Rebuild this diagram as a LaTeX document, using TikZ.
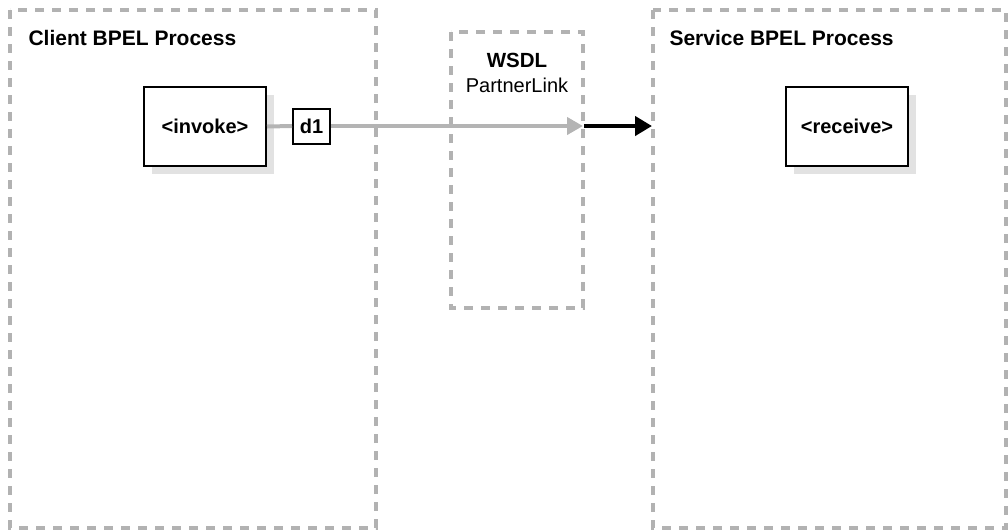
\documentclass[tikz,border=0pt]{standalone}
\usepackage{fontspec}
\setmainfont{Liberation Sans}
\usetikzlibrary{arrows.meta}
\definecolor{dashgray}{RGB}{178,178,178}
\definecolor{shadowgray}{RGB}{226,226,226}
\definecolor{linegray}{RGB}{180,180,180}
\tikzset{
  region/.style={draw=dashgray, line width=3.2pt, dash pattern=on 9pt off 8pt},
  act/.style={draw=black, line width=2pt, fill=white, minimum width=122pt, minimum height=79pt, font=\bfseries\fontsize{20}{24}\selectfont, inner sep=0pt},
  shadow/.style={fill=shadowgray},
  datab/.style={draw=black, line width=2pt, fill=white, minimum width=37pt, minimum height=35pt, font=\bfseries\fontsize{20}{24}\selectfont, inner sep=0pt},
  title/.style={font=\bfseries\fontsize{21}{25}\selectfont, anchor=west},
}
\begin{document}
\begin{tikzpicture}[x=1pt,y=-1pt]
\useasboundingbox (0,0) rectangle (1008,531);
\draw[region] (10,10) rectangle (376,528);
\draw[region] (653,10) rectangle (1006,528);
\draw[region] (451,32) rectangle (583,308);
\node[title] (ct) at (25,38) {Client BPEL Process};
\node[title] (st) at (666,38) {Service BPEL Process};
\node[font=\bfseries\fontsize{20.5}{24}\selectfont] (wt) at (517,60) {WSDL};
\node[font=\fontsize{20}{24}\selectfont] (wp) at (517,85) {PartnerLink};
\fill[shadow] (152,95) rectangle (274,174);
\node[act] (inv) at (205,126.5) {<invoke>};
\fill[shadow] (794,95) rectangle (916,174);
\node[act] (rcv) at (847,126.5) {<receive>};
\node[datab] (d1) at (311.5,126) {d1};
\coordinate (pl) at (583,126);
\coordinate (sv) at (652,126);
\draw[linegray, line width=4pt] (inv.east) -- (d1.west);
\draw[linegray, line width=4pt, -{Triangle[length=16pt,width=17pt]}] (d1.east) -- (pl);
\draw[black, line width=4.5pt, -{Triangle[length=17pt,width=19pt]}, shorten <=1pt] (pl) -- (sv);
\end{tikzpicture}
\end{document}
